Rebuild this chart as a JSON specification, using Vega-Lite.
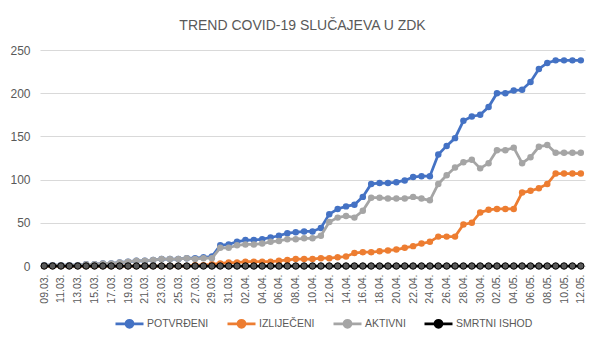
{
  "$schema": "https://vega.github.io/schema/vega-lite/v6.json",
  "width": 545,
  "height": 216,
  "autosize": {"type": "none"},
  "padding": {"left": 40, "top": 50, "right": 24, "bottom": 83},
  "background": "#ffffff",
  "title": {
    "text": "TREND COVID-19 SLUČAJEVA U ZDK",
    "font": "Liberation Sans",
    "fontSize": 14,
    "fontWeight": "normal",
    "color": "#595959",
    "anchor": "middle",
    "frame": "group",
    "baseline": "alphabetic",
    "offset": 22,
    "dx": -10,
    "dy": 22
  },
  "data": {
    "values": [
      {"d": "09.03.", "P": 1, "I": 0, "A": 1, "S": 0},
      {"d": "10.03.", "P": 1, "I": 0, "A": 1, "S": 0},
      {"d": "11.03.", "P": 1, "I": 0, "A": 1, "S": 0},
      {"d": "12.03.", "P": 1, "I": 0, "A": 1, "S": 0},
      {"d": "13.03.", "P": 1, "I": 0, "A": 1, "S": 0},
      {"d": "14.03.", "P": 2, "I": 0, "A": 2, "S": 0},
      {"d": "15.03.", "P": 2, "I": 0, "A": 2, "S": 0},
      {"d": "16.03.", "P": 3, "I": 0, "A": 3, "S": 0},
      {"d": "17.03.", "P": 3, "I": 0, "A": 3, "S": 0},
      {"d": "18.03.", "P": 4, "I": 0, "A": 4, "S": 0},
      {"d": "19.03.", "P": 5, "I": 0, "A": 5, "S": 0},
      {"d": "20.03.", "P": 6, "I": 0, "A": 6, "S": 0},
      {"d": "21.03.", "P": 6, "I": 0, "A": 6, "S": 0},
      {"d": "22.03.", "P": 7, "I": 0, "A": 7, "S": 0},
      {"d": "23.03.", "P": 8, "I": 0, "A": 8, "S": 0},
      {"d": "24.03.", "P": 8, "I": 0, "A": 8, "S": 0},
      {"d": "25.03.", "P": 8, "I": 0, "A": 8, "S": 0},
      {"d": "26.03.", "P": 9, "I": 0, "A": 9, "S": 0},
      {"d": "27.03.", "P": 9, "I": 1, "A": 8, "S": 0},
      {"d": "28.03.", "P": 10, "I": 1, "A": 9, "S": 0},
      {"d": "29.03.", "P": 11, "I": 2, "A": 9, "S": 0},
      {"d": "30.03.", "P": 24, "I": 3, "A": 21, "S": 0},
      {"d": "31.03.", "P": 25, "I": 4, "A": 21, "S": 0},
      {"d": "01.04.", "P": 28, "I": 4, "A": 24, "S": 0},
      {"d": "02.04.", "P": 30, "I": 5, "A": 25, "S": 0},
      {"d": "03.04.", "P": 30, "I": 5, "A": 25, "S": 0},
      {"d": "04.04.", "P": 31, "I": 5, "A": 26, "S": 0},
      {"d": "05.04.", "P": 33, "I": 5, "A": 28, "S": 0},
      {"d": "06.04.", "P": 35, "I": 6, "A": 29, "S": 0},
      {"d": "07.04.", "P": 38, "I": 7, "A": 31, "S": 0},
      {"d": "08.04.", "P": 39, "I": 8, "A": 31, "S": 0},
      {"d": "09.04.", "P": 40, "I": 8, "A": 32, "S": 0},
      {"d": "10.04.", "P": 40, "I": 8, "A": 32, "S": 0},
      {"d": "11.04.", "P": 44, "I": 9, "A": 35, "S": 0},
      {"d": "12.04.", "P": 60, "I": 9, "A": 51, "S": 0},
      {"d": "13.04.", "P": 66, "I": 10, "A": 56, "S": 0},
      {"d": "14.04.", "P": 69, "I": 11, "A": 58, "S": 0},
      {"d": "15.04.", "P": 71, "I": 15, "A": 56, "S": 0},
      {"d": "16.04.", "P": 80, "I": 16, "A": 64, "S": 0},
      {"d": "17.04.", "P": 95, "I": 16, "A": 79, "S": 0},
      {"d": "18.04.", "P": 96, "I": 17, "A": 79, "S": 0},
      {"d": "19.04.", "P": 96, "I": 18, "A": 78, "S": 0},
      {"d": "20.04.", "P": 97, "I": 19, "A": 78, "S": 0},
      {"d": "21.04.", "P": 99, "I": 21, "A": 78, "S": 0},
      {"d": "22.04.", "P": 103, "I": 23, "A": 80, "S": 0},
      {"d": "23.04.", "P": 104, "I": 26, "A": 78, "S": 0},
      {"d": "24.04.", "P": 104, "I": 28, "A": 76, "S": 0},
      {"d": "25.04.", "P": 129, "I": 34, "A": 95, "S": 0},
      {"d": "26.04.", "P": 139, "I": 34, "A": 105, "S": 0},
      {"d": "27.04.", "P": 148, "I": 34, "A": 114, "S": 0},
      {"d": "28.04.", "P": 168, "I": 48, "A": 120, "S": 0},
      {"d": "29.04.", "P": 173, "I": 50, "A": 123, "S": 0},
      {"d": "30.04.", "P": 175, "I": 62, "A": 113, "S": 0},
      {"d": "01.05.", "P": 184, "I": 65, "A": 119, "S": 0},
      {"d": "02.05.", "P": 200, "I": 66, "A": 134, "S": 0},
      {"d": "03.05.", "P": 200, "I": 66, "A": 134, "S": 0},
      {"d": "04.05.", "P": 203, "I": 66, "A": 137, "S": 0},
      {"d": "05.05.", "P": 204, "I": 85, "A": 119, "S": 0},
      {"d": "06.05.", "P": 213, "I": 87, "A": 126, "S": 0},
      {"d": "07.05.", "P": 228, "I": 90, "A": 138, "S": 0},
      {"d": "08.05.", "P": 235, "I": 95, "A": 140, "S": 0},
      {"d": "09.05.", "P": 238, "I": 107, "A": 131, "S": 0},
      {"d": "10.05.", "P": 238, "I": 107, "A": 131, "S": 0},
      {"d": "11.05.", "P": 238, "I": 107, "A": 131, "S": 0},
      {"d": "12.05.", "P": 238, "I": 107, "A": 131, "S": 0}
    ]
  },
  "transform": [{"fold": ["P", "I", "A", "S"], "as": ["k", "v"]}],
  "encoding": {
    "x": {
      "field": "d",
      "type": "ordinal",
      "sort": null,
      "scale": {"type": "point", "padding": 0.5},
      "axis": {
        "title": null,
        "values": ["09.03.", "11.03.", "13.03.", "15.03.", "17.03.", "19.03.", "21.03.", "23.03.", "25.03.", "27.03.", "29.03.", "31.03.", "02.04.", "04.04.", "06.04.", "08.04.", "10.04.", "12.04.", "14.04.", "16.04.", "18.04.", "20.04.", "22.04.", "24.04.", "26.04.", "28.04.", "30.04.", "02.05.", "04.05.", "06.05.", "08.05.", "10.05.", "12.05."],
        "labelAngle": -90,
        "labelFont": "Liberation Sans",
        "labelFontSize": 10.5,
        "labelColor": "#595959",
        "labelPadding": 8,
        "ticks": false,
        "grid": false,
        "domain": true,
        "domainColor": "#d9d9d9",
        "domainWidth": 1
      }
    },
    "y": {
      "field": "v",
      "type": "quantitative",
      "scale": {"domain": [0, 250], "nice": false},
      "axis": {
        "title": null,
        "values": [0, 50, 100, 150, 200, 250],
        "labelFont": "Liberation Sans",
        "labelFontSize": 12,
        "labelColor": "#595959",
        "labelPadding": 10,
        "ticks": false,
        "domain": false,
        "grid": true,
        "gridColor": "#d9d9d9",
        "gridWidth": 1
      }
    },
    "color": {
      "field": "k",
      "type": "nominal",
      "sort": ["P", "I", "A", "S"],
      "scale": {"domain": ["P", "I", "A", "S"], "range": ["#4472C4", "#ED7D31", "#A5A5A5", "#000000"]},
      "legend": {
        "title": null,
        "orient": "none",
        "legendX": 74,
        "legendY": 258,
        "direction": "horizontal",
        "columns": 4,
        "labelExpr": "{'P': 'POTVRĐENI', 'I': 'IZLIJEČENI', 'A': 'AKTIVNI', 'S': 'SMRTNI ISHOD'}[datum.label]",
        "labelFont": "Liberation Sans",
        "labelFontSize": 10.5,
        "labelColor": "#595959",
        "labelOffset": 2,
        "columnPadding": 13,
        "symbolType": "M-1,0H1M-0.25,0A0.25,0.25,0,1,1,0.25,0A0.25,0.25,0,1,1,-0.25,0",
        "symbolSize": 784,
        "symbolStrokeWidth": 2.75,
        "encode": {
          "symbols": {
            "update": {
              "fill": {"signal": "datum.value === 'S' ? '#595959' : scale('color', datum.value)"}
            }
          }
        }
      }
    }
  },
  "layer": [
    {
      "transform": [{"filter": "datum.k === 'P'"}],
      "mark": {"type": "line", "strokeWidth": 2.75, "point": {"filled": true, "size": 42}}
    },
    {
      "transform": [{"filter": "datum.k === 'I'"}],
      "mark": {"type": "line", "strokeWidth": 2.75, "point": {"filled": true, "size": 42}}
    },
    {
      "transform": [{"filter": "datum.k === 'A'"}],
      "mark": {"type": "line", "strokeWidth": 2.75, "point": {"filled": true, "size": 42}}
    },
    {
      "transform": [{"filter": "datum.k === 'S'"}],
      "mark": {"type": "line", "strokeWidth": 2.75}
    },
    {
      "transform": [{"filter": "datum.k === 'S'"}],
      "mark": {"type": "point", "filled": true, "size": 42, "stroke": "#000000", "strokeWidth": 1, "opacity": 1},
      "encoding": {"color": {"value": "#595959"}}
    }
  ],
  "config": {
    "view": {"stroke": null},
    "font": "Liberation Sans"
  }
}
